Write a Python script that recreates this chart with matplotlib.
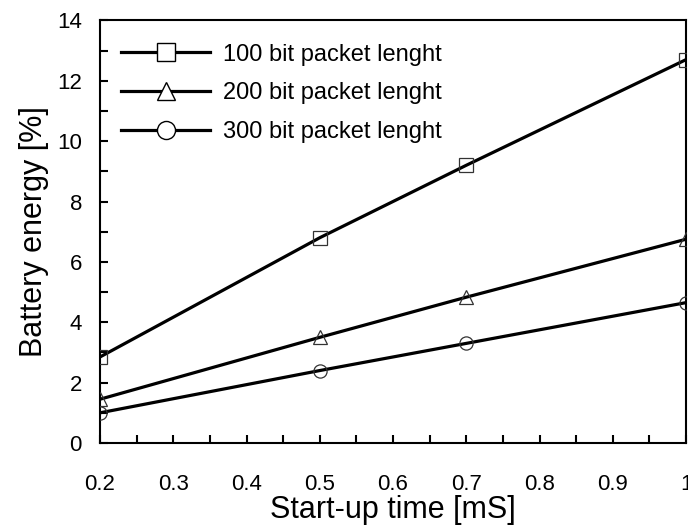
import matplotlib
matplotlib.use("Agg")
import matplotlib.pyplot as plt
from matplotlib.ticker import MultipleLocator
from matplotlib.lines import Line2D

plt.rcParams['font.family'] = ['Liberation Sans', 'DejaVu Sans']

start_up = [0.2, 0.5, 0.7, 1.0]
energy_100 = [2.85, 6.8, 9.2, 12.7]
energy_200 = [1.45, 3.5, 4.83, 6.75]
energy_300 = [1.0, 2.4, 3.3, 4.65]
labels = ["100 bit packet lenght", "200 bit packet lenght", "300 bit packet lenght"]
markers = ["s", "^", "o"]
x_ticks = [0.2, 0.3, 0.4, 0.5, 0.6, 0.7, 0.8, 0.9, 1.0]
x_tick_labels = ["0.2", "0.3", "0.4", "0.5", "0.6", "0.7", "0.8", "0.9", "1"]

fig = plt.figure(figsize=(6.88, 5.31), dpi=100)
ax = fig.add_axes([100/688, 88/531, 586/688, 422.6/531])

handles = []
for ys, m, lab in zip([energy_100, energy_200, energy_300], markers, labels):
    ax.plot(start_up, ys, color='black', lw=2.3, zorder=2)
    ax.plot(start_up, ys, ls='none', marker=m, markersize=9.5, markerfacecolor='none',
            markeredgecolor='#333333', markeredgewidth=0.9, zorder=3)
    handles.append(Line2D([], [], color='black', lw=2.3, marker=m, markersize=13,
                          markerfacecolor='white', markeredgecolor='black', markeredgewidth=1.0))

ax.set_xlim(0.2, 1.0)
ax.set_ylim(0, 14)
ax.xaxis.set_minor_locator(MultipleLocator(0.05))
ax.yaxis.set_major_locator(MultipleLocator(2))
ax.yaxis.set_minor_locator(MultipleLocator(1))
ax.set_xticks(x_ticks)
ax.set_xticklabels(x_tick_labels)
ax.tick_params(which='both', direction='in', top=False, right=False, width=1.5)
ax.tick_params(which='major', length=6)
ax.tick_params(which='minor', length=6)
ax.tick_params(axis='x', which='major', pad=22, labelsize=16)
ax.tick_params(axis='y', which='major', pad=13, labelsize=16)
for s in ax.spines.values():
    s.set_linewidth(1.5)

ax.set_xlabel("Start-up time [mS]", fontsize=22, labelpad=0)
ax.set_ylabel("Battery energy [%]", fontsize=22, labelpad=6)

leg = ax.legend(handles, labels, loc='upper left', bbox_to_anchor=(0.0, 0.995), frameon=False,
                fontsize=17, handlelength=3.77, handletextpad=0.55, labelspacing=0.7,
                borderaxespad=0.5)

fig.savefig("out.png", dpi=100)
